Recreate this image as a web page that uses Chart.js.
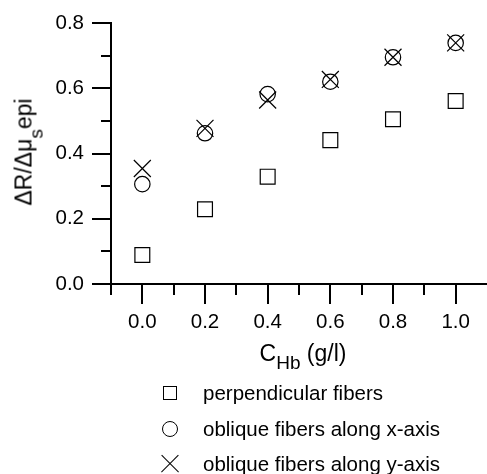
<!DOCTYPE html>
<html>
<head>
<meta charset="utf-8">
<script src="https://cdn.jsdelivr.net/npm/chart.js@4/dist/chart.umd.min.js"></script>
<style>
  body { margin:0; background:#fff; }
  #wrap { position:relative; width:487px; height:474px; font-family:Arial,"Liberation Sans",sans-serif; color:#000; }
  #chart { position:absolute; left:0; top:0; }
  .ttl { position:absolute; white-space:nowrap; font-size:23px; line-height:1; }
  .sub { font-size:19px; position:relative; }
  .leg { position:absolute; left:203px; font-size:20.5px; line-height:1; white-space:nowrap; transform:translateY(-50%); }
  .mk { position:absolute; box-sizing:border-box; transform:translate(-50%,-50%); }
  .mk.sq { width:14px; height:14px; border:1.3px solid #000; }
  .mk.ci { width:16px; height:16px; border:1.3px solid #000; border-radius:50%; }
  .mk.cr { width:18px; height:18px; }
  .mk.cr::before, .mk.cr::after { content:""; position:absolute; left:-3px; top:8px; width:24px; height:1.3px; background:#000; }
  .mk.cr::before { transform:rotate(45deg); }
  .mk.cr::after { transform:rotate(-45deg); }
</style>
</head>
<body>
<div id="wrap">
  <canvas id="chart" width="487" height="474"></canvas>
  <div class="ttl" id="yTitle">ΔR/Δμ<span class="sub" style="top:11px">s</span>epi</div>
  <div class="ttl" id="xTitle">C<span class="sub" style="top:8px">Hb</span> (g/l)</div>
  <div id="legend"></div>
</div>
<script>
// data
const concentrations = [0.0, 0.2, 0.4, 0.6, 0.8, 1.0];
const perpendicular  = [0.089, 0.229, 0.329, 0.441, 0.505, 0.561];
const obliqueX       = [0.306, 0.462, 0.582, 0.620, 0.695, 0.739];
const obliqueY       = [0.354, 0.477, 0.564, 0.627, 0.695, 0.739];

const seriesNames = ['perpendicular fibers', 'oblique fibers along x-axis', 'oblique fibers along y-axis'];

// ticks (minor every 0.1, labels on majors)
const xTickVals  = [-0.1, 0.0, 0.1, 0.2, 0.3, 0.4, 0.5, 0.6, 0.7, 0.8, 0.9, 1.0];
const xMajorVals = [0.0, 0.2, 0.4, 0.6, 0.8, 1.0];
const yTickVals  = [0.0, 0.1, 0.2, 0.3, 0.4, 0.5, 0.6, 0.7, 0.8];
const yMajorVals = [0.0, 0.2, 0.4, 0.6, 0.8];

const isIn = (v, arr) => arr.some(a => Math.abs(a - v) < 1e-6);
const pts = ys => concentrations.map((x, i) => ({x, y: ys[i]}));

const tickFont = {family:'Arial, "Liberation Sans", sans-serif', size:20.5};

// minor ticks are shorter than the major ones
const minorTicks = {
  id: 'minorTicks',
  afterDraw(chart) {
    const {ctx, scales:{x, y}} = chart;
    ctx.save();
    ctx.strokeStyle = '#000';
    ctx.lineWidth = 2;
    ctx.beginPath();
    xTickVals.filter(v => !isIn(v, xMajorVals)).forEach(v => {
      const px = Math.round(x.getPixelForValue(v));
      ctx.moveTo(px, x.top); ctx.lineTo(px, x.top + 11);
    });
    yTickVals.filter(v => !isIn(v, yMajorVals)).forEach(v => {
      const py = Math.round(y.getPixelForValue(v));
      ctx.moveTo(y.right, py); ctx.lineTo(y.right - 10, py);
    });
    ctx.stroke();
    ctx.restore();
  }
};

const mkDs = (label, data, style, r) => ({
  label, data, pointStyle: style, pointRadius: r, pointHoverRadius: r,
  pointBorderWidth: 1.2, borderColor: '#000', backgroundColor: 'rgba(0,0,0,0)', showLine: false
});

new Chart(document.getElementById('chart'), {
  type: 'scatter',
  data: {
    datasets: [
      mkDs(seriesNames[0], pts(perpendicular), 'rect', 10.5),
      mkDs(seriesNames[1], pts(obliqueX), 'circle', 7.7),
      mkDs(seriesNames[2], pts(obliqueY), 'crossRot', 12)
    ]
  },
  options: {
    responsive: false, animation: false, devicePixelRatio: 1,
    layout: {autoPadding: false, padding: {top: 23, right: 0, bottom: 0, left: 0}},
    plugins: {legend: {display: false}, tooltip: {enabled: false}},
    scales: {
      x: {
        type: 'linear', min: -0.1, max: 1.1,
        afterBuildTicks: s => { s.ticks = xTickVals.map(v => ({value: v})); },
        afterFit: s => { s.height = 190; s.paddingLeft = 0; s.paddingRight = 0; },
        border: {display: true, color: '#000', width: 2},
        grid: {drawOnChartArea: false, drawTicks: true, tickLength: 20, lineWidth: 2,
               tickColor: c => isIn(c.tick.value, xMajorVals) ? '#000' : 'rgba(0,0,0,0)'},
        ticks: {font: tickFont, color: '#000', padding: 6, maxRotation: 0, autoSkip: false,
                callback: v => isIn(v, xMajorVals) ? v.toFixed(1) : ''}
      },
      y: {
        type: 'linear', min: 0, max: 0.8,
        afterBuildTicks: s => { s.ticks = yTickVals.map(v => ({value: v})); },
        afterFit: s => { s.width = 111; },
        border: {display: true, color: '#000', width: 2},
        grid: {drawOnChartArea: false, drawTicks: true, tickLength: 19, lineWidth: 2,
               tickColor: c => isIn(c.tick.value, yMajorVals) ? '#000' : 'rgba(0,0,0,0)'},
        ticks: {font: tickFont, color: '#000', padding: 8, autoSkip: false,
                callback: v => isIn(v, yMajorVals) ? v.toFixed(1) : ''}
      }
    }
  },
  plugins: [minorTicks]
});

// axis titles (they carry subscripts, so they are HTML)
const yT = document.getElementById('yTitle');
yT.style.left = '24px'; yT.style.top = '152px';
yT.style.transform = 'translate(-50%,-50%) rotate(-90deg)';
const xT = document.getElementById('xTitle');
xT.style.left = '303px'; xT.style.top = '353px';
xT.style.transform = 'translate(-50%,-50%)';

// legend below the axis title
const legendRows = [393, 429, 464];
const legendMarks = ['sq', 'ci', 'cr'];
document.getElementById('legend').innerHTML = seriesNames.map((n, i) =>
  `<div class="mk ${legendMarks[i]}" style="left:170px;top:${legendRows[i]}px"></div>
   <div class="leg" style="top:${legendRows[i]}px">${n}</div>`).join('');
</script>
</body>
</html>
